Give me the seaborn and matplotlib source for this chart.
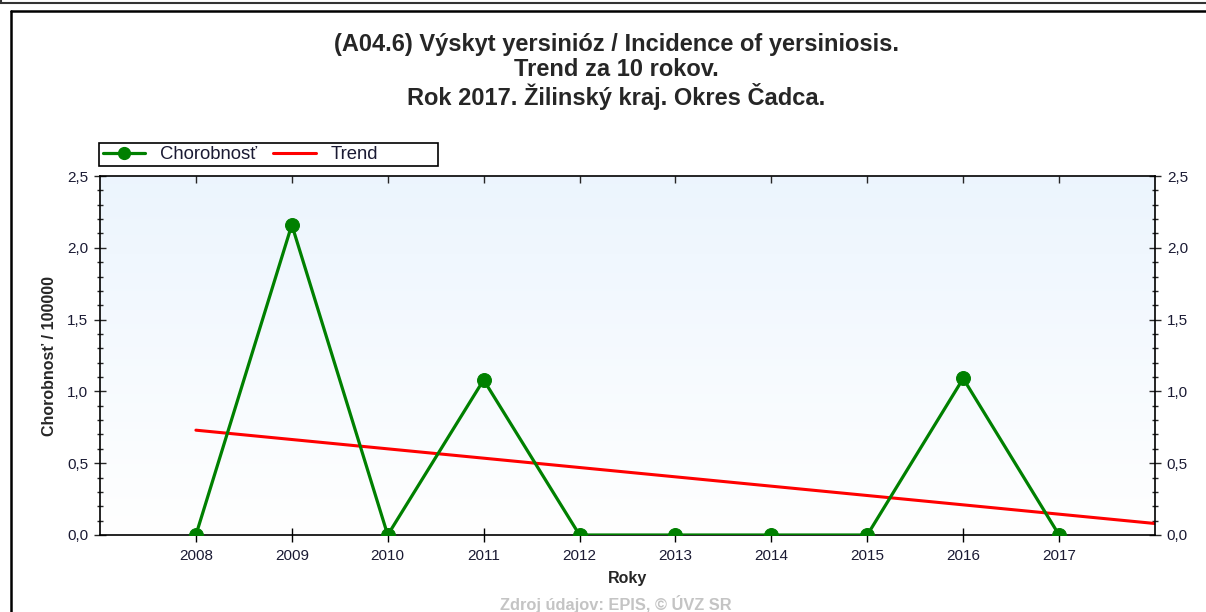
import numpy as np
import pandas as pd
import matplotlib
matplotlib.use("Agg")
import matplotlib.pyplot as plt
from matplotlib.lines import Line2D
from matplotlib.patches import Rectangle
from matplotlib.ticker import MultipleLocator, FuncFormatter
import seaborn as sns

years = [2008, 2009, 2010, 2011, 2012, 2013, 2014, 2015, 2016, 2017]
incidence = [0.0, 2.16, 0.0, 1.08, 0.0, 0.0, 0.0, 0.0, 1.09, 0.0]
trend_years = [2008, 2018]
trend_values = [0.73, 0.08]
title_lines = ["(A04.6) Výskyt yersinióz / Incidence of yersiniosis.",
               "Trend za 10 rokov.",
               "Rok 2017. Žilinský kraj. Okres Čadca."]
series_names = ["Chorobnosť", "Trend"]

sns.set_style("white")
plt.rcParams['font.family'] = ['Liberation Sans', 'DejaVu Sans']

W, H = 1206, 612
fig = plt.figure(figsize=(W / 100, H / 100), dpi=100)

# outer frame lines
fig.add_artist(Line2D([0, 1], [1 - 3 / H, 1 - 3 / H], color='#333333', lw=1.5))
fig.add_artist(Line2D([1 / W, 1 / W], [1, 1 - 3 / H], color='#333333', lw=1.5))
fig.add_artist(Line2D([11 / W, 1], [1 - 11 / H, 1 - 11 / H], color='black', lw=1.8))
fig.add_artist(Line2D([11 / W, 11 / W], [0, 1 - 11 / H], color='black', lw=1.8))

left, right, top, bottom = 100, 1155, 176, 535
ax = fig.add_axes([left / W, (H - bottom) / H, (right - left) / W, (bottom - top) / H])

# gradient background
grad = np.linspace(0, 1, 256).reshape(-1, 1)
cmap = matplotlib.colors.LinearSegmentedColormap.from_list(
    "bg", [(1.0, 1.0, 1.0), (0.925, 0.96, 0.995)])
ax.imshow(grad, extent=[2007, 2018, 0, 2.5], origin='lower', aspect='auto',
          cmap=cmap, zorder=0)

df = pd.DataFrame({"Rok": years, "Hodnota": incidence})
dft = pd.DataFrame({"Rok": trend_years, "Hodnota": trend_values})
sns.lineplot(data=df, x="Rok", y="Hodnota", ax=ax, color='#008000', lw=2.3,
             marker='o', markersize=10, markeredgecolor='#008000', zorder=3)
sns.lineplot(data=dft, x="Rok", y="Hodnota", ax=ax, color='#ff0000', lw=2.2, zorder=2)

ax.set_xlim(2007, 2018)
ax.set_ylim(0, 2.5)
ax.set_xticks(years)
ax.set_xticklabels([str(y) for y in years])
ax.yaxis.set_major_locator(MultipleLocator(0.5))
ax.yaxis.set_minor_locator(MultipleLocator(0.1))
ax.yaxis.set_major_formatter(FuncFormatter(lambda v, p: f"{v:.1f}".replace('.', ',')))
for s in ax.spines.values():
    s.set_color('black')
    s.set_linewidth(1.2)
ax.tick_params(axis='x', which='major', direction='inout', length=10, width=1,
               labelsize=11, colors='black', labelcolor='#1a1a33', pad=5,
               top=False, bottom=True)
ax.tick_params(axis='y', which='major', direction='inout', length=9, width=1,
               labelsize=11, labelcolor='#1a1a33', left=True, right=True,
               labelleft=True, labelright=True, pad=4)
ax.tick_params(axis='y', which='minor', direction='inout', length=5, width=1,
               left=True, right=True)
secx = ax.secondary_xaxis('top')
secx.set_xticks(years)
secx.tick_params(direction='in', length=5, width=1, labeltop=False)
secx.spines['top'].set_visible(False)

ax.set_xlabel("Roky", fontsize=11.5, fontweight='bold', labelpad=6)
ax.set_ylabel("Chorobnosť / 100000", fontsize=11.5, fontweight='bold', labelpad=7)
ax.grid(False)

for i, yy in enumerate([44, 70, 97]):
    fig.text(616 / W, 1 - yy / H, title_lines[i], ha='center', va='center',
             fontsize=17, fontweight='bold')

# legend frame
fig.add_artist(Rectangle((99 / W, 1 - 166 / H), (438 - 99) / W, 23 / H,
                         transform=fig.transFigure, fill=True, facecolor='white',
                         edgecolor='black', lw=1.2))
handles = [Line2D([], [], color='#008000', lw=2.3, marker='o', markersize=8.5),
           Line2D([], [], color='#ff0000', lw=2.2)]
leg = fig.legend(handles, series_names, loc='center left',
                 bbox_to_anchor=(103 / W, 1 - 154.5 / H), ncol=2, frameon=False,
                 fontsize=13.3, borderpad=0.0, handlelength=2.3,
                 handletextpad=0.8, columnspacing=0.85, borderaxespad=0)
for t in leg.get_texts():
    t.set_color('#1a1a33')

fig.text(616 / W, 1 - 604 / H, "Zdroj údajov: EPIS, © ÚVZ SR", ha='center',
         va='center', fontsize=11.8, fontweight='bold', color='#c4c4c4')

fig.savefig("out.png", dpi=100)
